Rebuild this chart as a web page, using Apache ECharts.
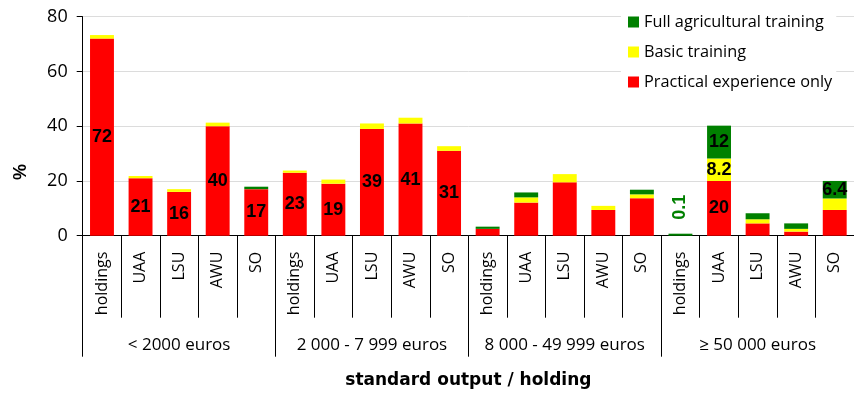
<!DOCTYPE html>
<html>
<head>
<meta charset="utf-8">
<title>Training of farm managers by standard output class</title>
<script src="https://cdn.jsdelivr.net/npm/echarts@6/dist/echarts.min.js"></script>
<style>
  html, body { margin: 0; padding: 0; background: #fff; }
  #chart { width: 854px; height: 394px; }
</style>
</head>
<body>
<div id="chart"></div>
<script>
// Size classes (standard output per holding) and the measures within each
const groups = ['< 2000 euros', '2 000 - 7 999 euros', '8 000 - 49 999 euros', '\u2265 50 000 euros'];
const measures = ['holdings', 'UAA', 'LSU', 'AWU', 'SO'];
const yTicks = [0, 20, 40, 60, 80];

// Shares (%) by level of agricultural training, 20 bars in group order
const practical = [72, 21, 16, 40, 17,   23, 19, 39, 41, 31,   2.5, 12.1, 19.5, 9.4, 13.7,   0, 20, 4.5, 1.5, 9.4];
const basic     = [1.3, 0.8, 1.0, 1.3, 0,  0.8, 1.5, 2.0, 2.1, 1.7,  0, 1.9, 3.0, 1.5, 1.4,  0, 8.2, 1.5, 1.0, 4.2];
const full      = [0, 0, 0, 0, 0.9,      0, 0, 0, 0, 0,           0.8, 1.8, 0, 0, 1.7,     0.1, 12, 2.2, 2.0, 6.4];

// Which bars carry a value label
const practicalLabelled = [0, 1, 2, 3, 4, 5, 6, 7, 8, 9, 16];
const basicLabelled = [16];
const fullLabelled = [16, 19];
const fullLabelledAbove = [15];

const categories = [];
groups.forEach(() => measures.forEach(m => categories.push(m)));

const labelFont = { fontFamily: 'Liberation Sans, Arial, sans-serif', fontWeight: 'bold', fontSize: 18, color: '#000' };

function buildData(values, inside, above) {
  return values.map((v, i) => {
    const item = { value: v === 0 ? '-' : v };
    if (inside.includes(i)) {
      item.label = Object.assign({ show: true, position: 'inside' }, labelFont);
    } else if (above && above.includes(i)) {
      item.label = Object.assign({
        show: true, position: 'top', rotate: 90, align: 'left', verticalAlign: 'middle', distance: 14
      }, labelFont, { color: '#008000' });
    }
    return item;
  });
}

const tickFont = 'Open Sans, DejaVu Sans, sans-serif';

const chart = echarts.init(document.getElementById('chart'), null, { renderer: 'canvas' });
chart.setOption({
  animation: false,
  backgroundColor: '#fff',
  grid: { left: 82.7, right: -1, top: 16.7, bottom: 158.3 },
  legend: {
    data: ['Full agricultural training', 'Basic training', 'Practical experience only'],
    orient: 'vertical',
    left: 621,
    top: 9,
    padding: [5, 4, 5, 7],
    backgroundColor: '#fff',
    icon: 'rect',
    itemWidth: 11,
    itemHeight: 11,
    itemGap: 14,
    selectedMode: false,
    textStyle: { fontFamily: tickFont, fontSize: 16.3, color: '#000', lineHeight: 16 }
  },
  graphic: [{
    type: 'text',
    left: 12,
    top: 164,
    rotation: Math.PI / 2,
    style: { text: '%', fontFamily: 'Liberation Sans, Arial, sans-serif', fontWeight: 'bold', fontSize: 18, fill: '#000' }
  }],
  xAxis: [{
    type: 'category',
    data: categories,
    position: 'bottom',
    axisLine: { show: true, lineStyle: { color: '#000', width: 1 } },
    axisTick: { show: true, interval: 0, length: 82, lineStyle: { color: '#000', width: 1 } },
    axisLabel: { interval: 0, rotate: 90, margin: 16, fontFamily: tickFont, fontSize: 16, color: '#000' }
  }, {
    type: 'category',
    data: groups,
    position: 'bottom',
    axisLine: { show: false },
    axisTick: { show: true, interval: 0, length: 121, lineStyle: { color: '#000', width: 1 } },
    axisLabel: { interval: 0, margin: 101, fontFamily: tickFont, fontSize: 17, color: '#000' },
    name: 'standard output / holding',
    nameLocation: 'middle',
    nameGap: 136,
    nameTextStyle: { fontFamily: 'DejaVu Sans, sans-serif', fontWeight: 'bold', fontSize: 17, color: '#000' }
  }],
  yAxis: {
    type: 'value',
    min: yTicks[0],
    max: yTicks[yTicks.length - 1],
    interval: yTicks[1] - yTicks[0],
    axisLine: { show: true, lineStyle: { color: '#000', width: 1 } },
    axisTick: { show: true, length: 6, lineStyle: { color: '#000' } },
    axisLabel: { margin: 15, fontFamily: tickFont, fontSize: 18, color: '#000' },
    splitLine: { show: true, lineStyle: { color: '#dcdcdc', width: 1 } }
  },
  series: [{
    name: 'Practical experience only',
    type: 'bar',
    stack: 'share',
    barWidth: '62%',
    itemStyle: { color: '#ff0000' },
    data: buildData(practical, practicalLabelled)
  }, {
    name: 'Basic training',
    type: 'bar',
    stack: 'share',
    barWidth: '62%',
    itemStyle: { color: '#ffff00' },
    data: buildData(basic, basicLabelled)
  }, {
    name: 'Full agricultural training',
    type: 'bar',
    stack: 'share',
    barWidth: '62%',
    barMinHeight: 2,
    itemStyle: { color: '#008000' },
    data: buildData(full, fullLabelled, fullLabelledAbove)
  }]
});
</script>
</body>
</html>
